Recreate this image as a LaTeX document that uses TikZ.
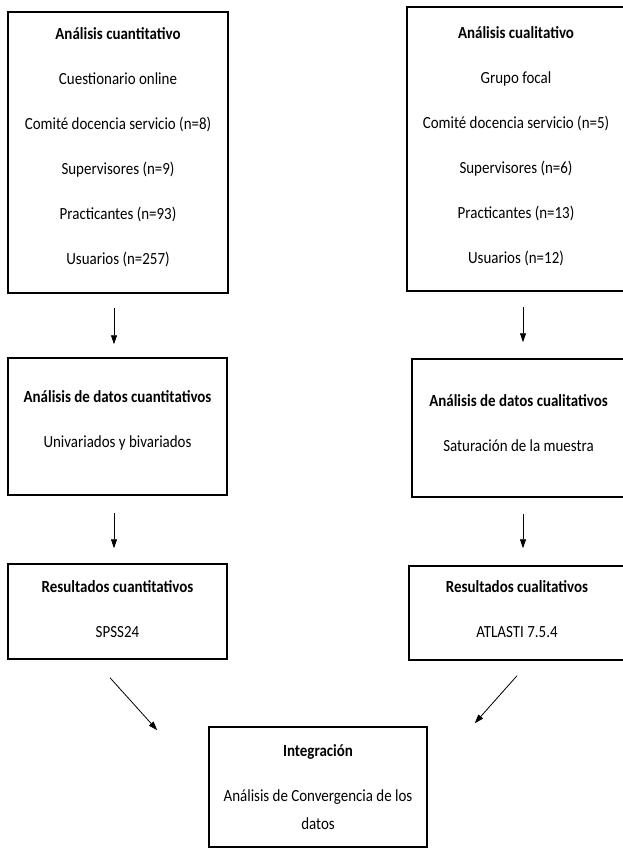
\documentclass[tikz,border=0pt]{standalone}
\usepackage{fontspec}
\setmainfont{Carlito}[FakeStretch=0.88]
\usetikzlibrary{arrows.meta}

\begin{document}
\begin{tikzpicture}[x=1pt,y=-1pt,
  caja/.style={draw,line width=1.5pt,inner sep=0pt},
  texto/.style={align=center,inner sep=0pt,font=\fontsize{17}{45}\selectfont},
  flecha/.style={-{Triangle[length=9pt,width=6pt]},line width=0.8pt}]
\useasboundingbox (0,0) rectangle (623,848);

% recoleccion
\node[caja,minimum width=220pt,minimum height=281pt,
  label={[texto,yshift=5.5pt]center:{\textbf{Análisis cuantitativo}\\Cuestionario online\\Comité docencia servicio (n=8)\\Supervisores (n=9)\\Practicantes (n=93)\\Usuarios (n=257)}}] (cuanti) at (118,152.5) {};
\node[caja,minimum width=218pt,minimum height=284pt,
  label={[texto,yshift=3pt]center:{\textbf{Análisis cualitativo}\\Grupo focal\\Comité docencia servicio (n=5)\\Supervisores (n=6)\\Practicantes (n=13)\\Usuarios (n=12)}}] (cuali) at (516,149) {};

% analisis
\node[caja,minimum width=219pt,minimum height=137pt,
  label={[texto,yshift=6pt]center:{\textbf{Análisis de datos cuantitativos}\\Univariados y bivariados}}] (datcuanti) at (117.5,426.5) {};
\node[caja,minimum width=213pt,minimum height=138pt,
  label={[texto,yshift=5pt]center:{\textbf{Análisis de datos cualitativos}\\Saturación de la muestra}}] (datcuali) at (518.5,428) {};

% resultados
\node[caja,minimum width=219pt,minimum height=95pt,
  label={[texto,yshift=2.5pt]center:{\textbf{Resultados cuantitativos}\\SPSS24}}] (rescuanti) at (117.5,611.5) {};
\node[caja,minimum width=216pt,minimum height=94pt,
  label={[texto,yshift=4pt]center:{\textbf{Resultados cualitativos}\\ATLASTI 7.5.4}}] (rescuali) at (517,613) {};

% integracion
\node[caja,minimum width=218pt,minimum height=120pt,
  label={[texto,font=\fontsize{17}{28}\selectfont]center:{\textbf{Integración}\\[17pt]Análisis de Convergencia de los\\datos}}] (integ) at (318,787) {};

\draw[flecha,shorten <=14pt,shorten >=13pt] ([xshift=-4pt]cuanti.south) -- ([xshift=-3.5pt]datcuanti.north);
\draw[flecha,shorten <=15pt,shorten >=16pt] ([xshift=7pt]cuali.south) -- ([xshift=4.5pt]datcuali.north);
\draw[flecha,shorten <=17pt,shorten >=15pt] ([xshift=-3.5pt]datcuanti.south) -- ([xshift=-3.5pt]rescuanti.north);
\draw[flecha,shorten <=16pt,shorten >=17pt] ([xshift=4.5pt]datcuali.south) -- ([xshift=6pt]rescuali.north);

\coordinate (d1) at ([xshift=-7.5pt,yshift=-18pt]rescuanti.south);
\coordinate (d2) at ([xshift=-51pt,yshift=-4pt]integ.north west);
\coordinate (d3) at ([yshift=-15pt]rescuali.south);
\coordinate (d4) at ([xshift=47pt,yshift=3pt]integ.north east);
\draw[flecha] (d1) -- (d2);
\draw[flecha] (d3) -- (d4);
\end{tikzpicture}
\end{document}
